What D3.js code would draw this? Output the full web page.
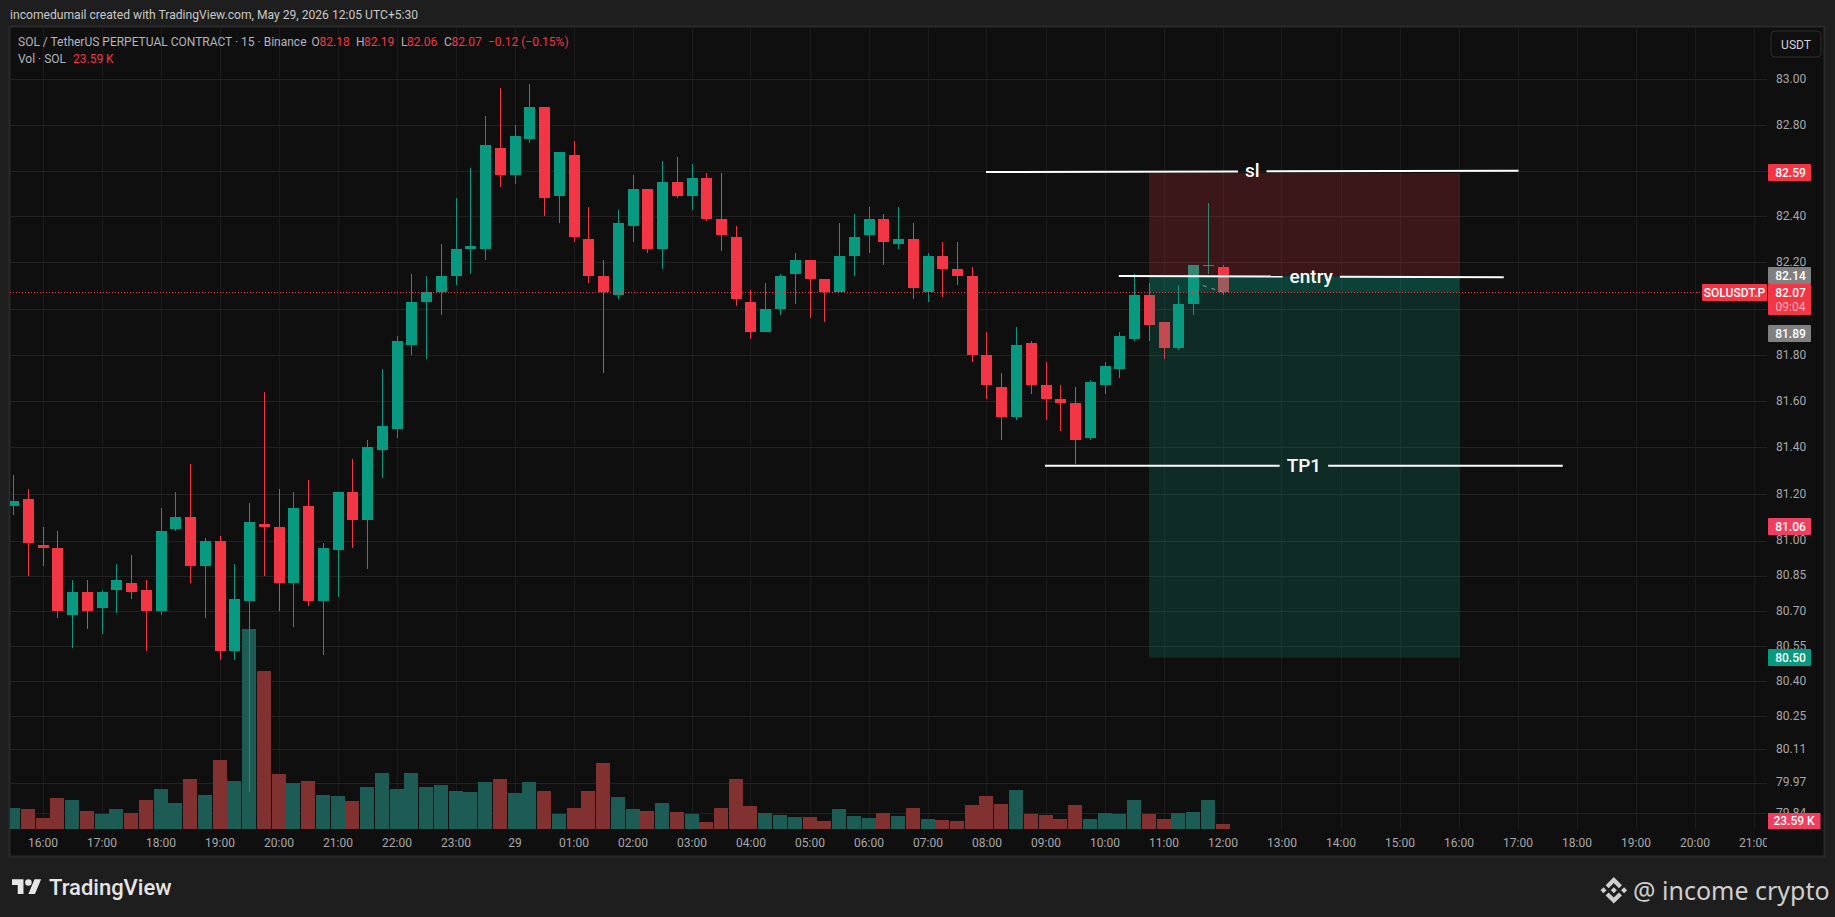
<!DOCTYPE html>
<html>
<head>
<meta charset="utf-8">
<title>SOLUSDT.P 15m</title>
<script src="https://cdn.jsdelivr.net/npm/d3@7"></script>
<style>
  html, body { margin: 0; padding: 0; background: #1e1e1e; overflow: hidden; }
  text { font-family: Roboto, "Noto Sans", sans-serif; }
</style>
</head>
<body>
<div id="container"></div>
<script>
/* DATA, one candle per 15 minutes from 15:30 */
const opens = [
  81.15,81.18,80.98,80.97,80.68,80.78,80.71,80.79,80.82,80.79,
  80.70,81.05,81.10,80.89,81.00,80.53,80.74,81.07,81.06,80.82,
  81.15,80.74,80.96,81.21,81.09,81.39,81.48,81.84,82.03,82.07,
  82.14,82.26,82.26,82.70,82.58,82.74,82.88,82.49,82.67,82.30,
  82.14,82.06,82.36,82.52,82.26,82.55,82.49,82.57,82.39,82.31,
  82.03,81.90,82.00,82.15,82.21,82.13,82.07,82.23,82.32,82.39,
  82.28,82.30,82.07,82.23,82.17,82.14,81.80,81.66,81.53,81.85,
  81.67,81.61,81.59,81.44,81.67,81.74,81.87,82.06,81.94,81.83,
  82.02,82.19,82.18]
const highs = [
  81.28,81.22,81.06,81.04,80.83,80.83,80.79,80.90,80.94,80.83,
  81.14,81.21,81.33,81.01,81.02,80.90,81.16,81.64,81.22,81.21,
  81.26,80.99,81.21,81.35,81.43,81.74,81.88,82.15,82.14,82.28,
  82.48,82.61,82.84,82.96,82.80,82.98,82.88,82.68,82.73,82.44,
  82.21,82.43,82.58,82.52,82.64,82.66,82.63,82.59,82.59,82.36,
  82.08,82.11,82.15,82.24,82.21,82.13,82.37,82.41,82.44,82.41,
  82.44,82.37,82.24,82.29,82.29,82.18,81.90,81.72,81.92,81.86,
  81.77,81.67,81.66,81.69,81.77,81.90,82.15,82.11,81.94,82.10,
  82.19,82.46,82.19]
const lows = [
  81.11,80.85,80.89,80.67,80.54,80.62,80.60,80.69,80.75,80.53,
  80.68,81.04,80.82,80.67,80.49,80.49,79.93,80.85,80.70,80.63,
  80.72,80.51,80.76,80.97,80.88,81.27,81.44,81.80,81.78,81.97,
  82.10,82.15,82.21,82.53,82.54,82.72,82.40,82.37,82.29,82.11,
  81.72,82.04,82.29,82.24,82.17,82.48,82.43,82.38,82.25,82.01,
  81.87,81.90,81.97,82.02,81.96,81.94,82.07,82.14,82.24,82.19,
  82.26,82.04,82.03,82.05,82.10,81.77,81.61,81.43,81.52,81.63,
  81.52,81.47,81.33,81.43,81.63,81.70,81.86,81.86,81.78,81.82,
  81.97,82.15,82.06]
const closes = [
  81.17,80.99,80.97,80.70,80.78,80.70,80.78,80.83,80.78,80.70,
  81.04,81.10,80.89,81.00,80.53,80.75,81.08,81.06,80.82,81.14,
  80.74,80.97,81.21,81.09,81.40,81.49,81.86,82.03,82.07,82.14,
  82.26,82.27,82.71,82.58,82.75,82.88,82.48,82.68,82.31,82.14,
  82.07,82.37,82.52,82.26,82.55,82.49,82.57,82.39,82.32,82.04,
  81.90,82.00,82.14,82.21,82.13,82.07,82.23,82.31,82.39,82.29,
  82.30,82.09,82.23,82.17,82.14,81.80,81.67,81.53,81.84,81.67,
  81.61,81.59,81.43,81.68,81.75,81.88,82.06,81.93,81.83,82.02,
  82.19,82.19,82.07]
// volume in thousands of SOL
const volumes = [
  99,94,52,146,137,85,71,94,76,137,
  189,123,236,160,326,227,944,746,260,217,
  227,160,156,132,198,264,189,264,198,208,
  179,175,222,236,170,222,179,71,99,179,
  312,151,94,85,123,80,71,33,99,236,
  109,76,66,57,57,38,94,61,52,76,
  61,99,47,42,38,113,156,118,184,71,
  66,47,113,47,76,71,137,71,47,76,
  80,137,23.59]

const priceTicks = [83,82.8,82.6,82.4,82.2,82,81.8,81.6,81.4,81.2,81,80.85,80.7,80.55,80.4,80.25,80.11,79.97,79.84]
const timeLabels = ["16:00","17:00","18:00","19:00","20:00","21:00","22:00","23:00","29","01:00","02:00","03:00","04:00","05:00","06:00","07:00","08:00","09:00","10:00","11:00","12:00","13:00","14:00","15:00","16:00","17:00","18:00","19:00","20:00","21:00"]

// the short position drawn on the chart
const stopPrice = 82.59, entryPrice = 82.14, targetPrice = 80.50, lastPrice = 82.07
const positionBars = [76.95, 98]

// hand drawn lines with a label in the middle
const lineNames = ["sl", "entry", "TP1"]
const lineBars = [[65.9, 102], [74.9, 101], [69.9, 105]]
const linePrices = [[82.594, 82.6], [82.141, 82.136], [81.321, 81.321]]

// little dashed arrow left by the position tool
const arrowBars = [80.6, 82]
const arrowPrices = [82.10, 82.07]

/* CONSTANTS */
const width = 1835, height = 917
const pane = { left: 10, top: 27, right: 1767, bottom: 829 }
const frame = { right: 1824, bottom: 856 }
const up = "#089981", down = "#f23645"
const upVol = "#1c5c55", downVol = "#823131"
const tickColor = "#a8a8a8"

const svg = d3.select("#container")
  .append("svg")
  .attr("width", width)
  .attr("height", height)
  .style("display", "block")

svg.append("defs").append("clipPath").attr("id", "paneClip")
  .append("rect")
  .attr("x", pane.left).attr("y", pane.top)
  .attr("width", pane.right - pane.left)
  .attr("height", frame.bottom - pane.top)

// + SCALES
const xScale = d3.scaleLinear().domain([0, 118]).range([14, 1754.5])
// price axis of the chart is logarithmic
const yScale = d3.scaleLog().domain([83, 79.84]).range([79.3, 813.3])
const volScale = d3.scaleLinear().domain([0, 944]).range([pane.bottom, 629])

const timeIdx = timeLabels.map((d, i) => 2 + i * 4)

// FRAME
svg.append("rect")
  .attr("x", pane.left - 0.5).attr("y", pane.top - 0.5)
  .attr("width", frame.right - pane.left + 1)
  .attr("height", frame.bottom - pane.top + 1)
  .attr("fill", "#0f0f0f")
  .attr("stroke", "#2a2a2a")
  .attr("stroke-width", 2)

// GRID
svg.append("g").selectAll("line")
  .data(timeIdx)
  .join("line")
  .attr("x1", d => Math.round(xScale(d)) - 0.5)
  .attr("x2", d => Math.round(xScale(d)) - 0.5)
  .attr("y1", pane.top)
  .attr("y2", pane.bottom)
  .attr("stroke", "#1c1c1c")

svg.append("g").selectAll("line")
  .data(priceTicks)
  .join("line")
  .attr("x1", pane.left)
  .attr("x2", pane.right)
  .attr("y1", d => Math.round(yScale(d)) + 0.5)
  .attr("y2", d => Math.round(yScale(d)) + 0.5)
  .attr("stroke", "#222222")

// VOLUME
svg.append("g").attr("shape-rendering", "crispEdges").attr("clip-path", "url(#paneClip)")
  .selectAll("rect")
  .data(volumes)
  .join("rect")
  .attr("x", (d, i) => Math.round(xScale(i) - 8))
  .attr("width", 14)
  .attr("y", d => Math.round(volScale(d)))
  .attr("height", d => pane.bottom - Math.round(volScale(d)))
  .attr("fill", (d, i) => closes[i] >= opens[i] ? upVol : downVol)

// CANDLES
const candles = svg.append("g").attr("shape-rendering", "crispEdges").attr("clip-path", "url(#paneClip)")

candles.selectAll(".wick")
  .data(opens)
  .join("rect")
  .attr("class", "wick")
  .attr("x", (d, i) => Math.round(xScale(i)) - 1)
  .attr("width", 1)
  .attr("y", (d, i) => Math.round(yScale(highs[i])))
  .attr("height", (d, i) => Math.round(yScale(lows[i])) - Math.round(yScale(highs[i])))
  .attr("fill", (d, i) => closes[i] >= opens[i] ? up : down)

candles.selectAll(".body")
  .data(opens)
  .join("rect")
  .attr("class", "body")
  .attr("x", (d, i) => Math.round(xScale(i)) - 6)
  .attr("width", 11)
  .attr("y", (d, i) => Math.round(yScale(Math.max(d, closes[i]))))
  .attr("height", (d, i) => Math.max(1, Math.round(yScale(Math.min(d, closes[i]))) - Math.round(yScale(Math.max(d, closes[i])))))
  .attr("fill", (d, i) => closes[i] >= opens[i] ? up : down)

// POSITION BOXES, on top of the candles
const boxes = [
  [stopPrice, entryPrice, "rgba(242,54,69,0.2)"],
  [entryPrice, targetPrice, "rgba(8,153,129,0.2)"],
  [entryPrice, lastPrice, "rgba(8,153,129,0.2)"]
]
svg.append("g").selectAll("rect")
  .data(boxes)
  .join("rect")
  .attr("x", xScale(positionBars[0]))
  .attr("width", xScale(positionBars[1]) - xScale(positionBars[0]))
  .attr("y", d => yScale(d[0]))
  .attr("height", d => yScale(d[1]) - yScale(d[0]))
  .attr("fill", d => d[2])

svg.append("line")
  .attr("x1", xScale(arrowBars[0])).attr("y1", yScale(arrowPrices[0]))
  .attr("x2", xScale(arrowBars[1])).attr("y2", yScale(arrowPrices[1]))
  .attr("stroke", "#8f9a98")
  .attr("stroke-width", 1)
  .attr("stroke-dasharray", "4 5")

// LAST PRICE LINE
svg.append("line")
  .attr("x1", pane.left)
  .attr("x2", 1702)
  .attr("y1", Math.round(yScale(lastPrice)) + 0.5)
  .attr("y2", Math.round(yScale(lastPrice)) + 0.5)
  .attr("stroke", down)
  .attr("stroke-dasharray", "1 2")

// LABELLED LINES
lineNames.forEach((name, i) => {
  const x0 = xScale(lineBars[i][0]), x1 = xScale(lineBars[i][1])
  const y0 = yScale(linePrices[i][0]), y1 = yScale(linePrices[i][1])
  const mx = (x0 + x1) / 2, my = (y0 + y1) / 2
  const label = svg.append("text")
    .attr("x", mx)
    .attr("y", my + 1)
    .attr("text-anchor", "middle")
    .attr("dominant-baseline", "middle")
    .attr("fill", "#ffffff")
    .attr("font-size", 19)
    .attr("font-weight", 500)
    .text(name)
  const gap = label.node().getComputedTextLength() / 2 + 7
  const slope = (y1 - y0) / (x1 - x0)
  const segs = [[x0, mx - gap], [mx + gap, x1]]
  segs.forEach(s => {
    svg.append("line")
      .attr("x1", s[0]).attr("x2", s[1])
      .attr("y1", y0 + (s[0] - x0) * slope)
      .attr("y2", y0 + (s[1] - x0) * slope)
      .attr("stroke", "#ffffff")
      .attr("stroke-width", 2)
  })
})

// AXES
const xAxis = d3.axisBottom(xScale)
  .tickValues(timeIdx)
  .tickFormat((d, i) => timeLabels[i])
  .tickSize(0)
  .tickPadding(9.5)
const xAxisG = svg.append("g")
  .attr("clip-path", "url(#paneClip)")
  .append("g")
  .attr("transform", `translate(-1,${pane.bottom})`)
  .call(xAxis)
xAxisG.select(".domain").remove()
xAxisG.selectAll("text").attr("fill", tickColor).attr("font-size", 12).attr("font-family", "Roboto")

const yAxis = d3.axisRight(yScale)
  .tickValues(priceTicks)
  .tickFormat(d3.format(".2f"))
  .tickSize(0)
  .tickPadding(0)
const yAxisG = svg.append("g")
  .attr("transform", `translate(1776,-0.5)`)
  .call(yAxis)
yAxisG.select(".domain").remove()
yAxisG.selectAll("text").attr("fill", tickColor).attr("font-size", 12).attr("font-family", "Roboto")

// PRICE TAGS
const tagNames = ["82.59", "82.14", "81.89", "81.06", "80.50"]
const tagPrices = [82.59, 82.14, 81.89, 81.06, 80.50]
const tagColors = [down, "#808080", "#808080", "#ef3e5f", up]

const tags = svg.append("g").selectAll("g")
  .data(tagNames)
  .join("g")
tags.append("rect")
  .attr("x", 1768)
  .attr("width", 43)
  .attr("y", (d, i) => Math.round(yScale(tagPrices[i])) - 9)
  .attr("height", 17)
  .attr("rx", 1)
  .attr("fill", (d, i) => tagColors[i])
tags.append("text")
  .attr("x", 1790.5)
  .attr("y", (d, i) => yScale(tagPrices[i]))
  .attr("dy", "0.35em")
  .attr("text-anchor", "middle")
  .attr("fill", "#ffffff")
  .attr("font-size", 12)
  .attr("font-weight", 500)
  .text(d => d)

// last price tag with countdown
svg.append("rect")
  .attr("x", 1768).attr("width", 43)
  .attr("y", 284).attr("height", 31)
  .attr("rx", 1)
  .attr("fill", down)
svg.append("text")
  .attr("x", 1790.5).attr("y", yScale(lastPrice)).attr("dy", "0.35em")
  .attr("text-anchor", "middle").attr("fill", "#ffffff")
  .attr("font-size", 12).attr("font-weight", 500)
  .text("82.07")
svg.append("text")
  .attr("x", 1790.5).attr("y", yScale(lastPrice) + 14).attr("dy", "0.35em")
  .attr("text-anchor", "middle").attr("fill", "#fbb3b9")
  .attr("font-size", 12)
  .text("09:04")
svg.append("rect")
  .attr("x", 1702).attr("width", 65)
  .attr("y", 284).attr("height", 17)
  .attr("rx", 1)
  .attr("fill", down)
svg.append("text")
  .attr("x", 1734.5).attr("y", yScale(lastPrice)).attr("dy", "0.35em")
  .attr("text-anchor", "middle").attr("fill", "#ffffff")
  .attr("font-size", 12).attr("font-weight", 500)
  .text("SOLUSDT.P")

// volume tag
svg.append("rect")
  .attr("x", 1768).attr("width", 52.5)
  .attr("y", volScale(volumes[82]) - 11).attr("height", 16)
  .attr("fill", "#ef3e5f")
svg.append("text")
  .attr("x", 1794).attr("y", volScale(volumes[82]) - 3).attr("dy", "0.35em")
  .attr("text-anchor", "middle").attr("fill", "#ffffff")
  .attr("font-size", 12).attr("font-weight", 500)
  .text("23.59 K")

// USDT button
svg.append("rect")
  .attr("x", 1771).attr("y", 31).attr("width", 50).attr("height", 26)
  .attr("rx", 4)
  .attr("fill", "#0f0f0f")
  .attr("stroke", "#2e2e2e")
svg.append("text")
  .attr("x", 1796).attr("y", 44.5).attr("dy", "0.35em")
  .attr("text-anchor", "middle").attr("fill", "#d1d4dc")
  .attr("font-size", 12)
  .text("USDT")

// HEADER
svg.append("text")
  .attr("x", 10).attr("y", 15).attr("dy", "0.35em")
  .attr("fill", "#c8c8c8").attr("font-size", 12.12)
  .text("incomedumail created with TradingView.com, May 29, 2026 12:05 UTC+5:30")

// LEGEND
const legendGray = "#b2b5be"
const legendItems = [
  ["SOL / TetherUS PERPETUAL CONTRACT · 15 · Binance", 18, 41.5, legendGray],
  ["O", 311.5, 41.5, legendGray], ["82.18", 319.5, 41.5, down],
  ["H", 356, 41.5, legendGray], ["82.19", 364, 41.5, down],
  ["L", 401, 41.5, legendGray], ["82.06", 407, 41.5, down],
  ["C", 444, 41.5, legendGray], ["82.07", 451.5, 41.5, down],
  ["−0.12 (−0.15%)", 488, 41.5, down],
  ["Vol · SOL", 18, 59, legendGray],
  ["23.59 K", 73, 59, down]
]
svg.append("g").selectAll("text")
  .data(legendItems)
  .join("text")
  .attr("x", d => d[1])
  .attr("y", d => d[2])
  .attr("dy", "0.35em")
  .attr("fill", d => d[3])
  .attr("font-size", 12)
  .text(d => d[0])

// TRADINGVIEW LOGO
svg.append("path")
  .attr("transform", "translate(12,876) scale(0.82)")
  .attr("d", "M14 22H7V11H0V4h14v18zM28 22h-8l7.5-18h8L28 22z")
  .attr("fill", "#e6e6e6")
svg.append("circle")
  .attr("transform", "translate(12,876) scale(0.82)")
  .attr("cx", 20).attr("cy", 8).attr("r", 4)
  .attr("fill", "#e6e6e6")
svg.append("text")
  .attr("x", 49).attr("y", 887).attr("dy", "0.35em")
  .attr("fill", "#e6e6e6").attr("font-size", 22).attr("font-weight", 500)
  .text("TradingView")

// WATERMARK
svg.append("path")
  .attr("transform", "translate(1600.5,877) scale(0.21)")
  .attr("d", "M38.73 53.2l24.59-24.58 24.6 24.6 14.3-14.31L63.32 0 24.43 38.9zM0 63.31l14.3-14.31 14.31 14.31-14.31 14.3zM38.73 73.41L63.32 97.99l24.6-24.6 14.31 14.29-38.9 38.91-38.91-38.88zM98 63.31l14.3-14.31 14.31 14.3-14.31 14.31zM77.83 63.3L63.32 48.78 52.59 59.51l-1.24 1.23-2.54 2.54 14.51 14.5 14.51-14.47z")
  .attr("fill", "#cfcfcf")
svg.append("text")
  .attr("x", 1633).attr("y", 891).attr("dy", "0.35em")
  .attr("fill", "#cfcfcf").attr("font-size", 25)
  .style("font-family", "'Noto Sans'")
  .text("@ income crypto")
</script>
</body>
</html>
